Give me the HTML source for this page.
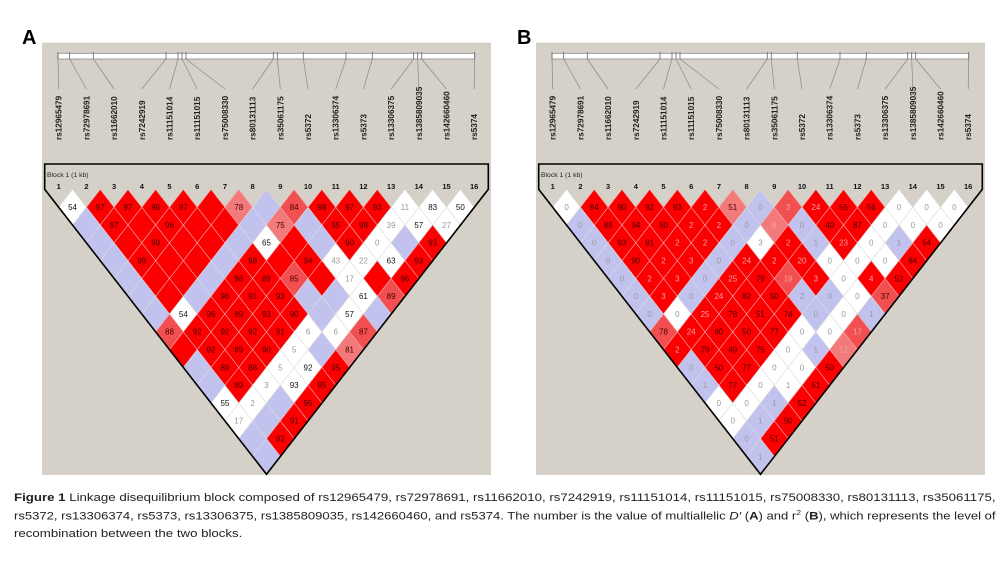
<!DOCTYPE html>
<html><head><meta charset="utf-8">
<style>
html,body{margin:0;padding:0;background:#fff;width:1007px;height:564px;overflow:hidden;font-family:"Liberation Sans",sans-serif}
#cap{position:absolute;left:14px;top:492px;width:982px;font-size:10.6px;color:#222}
.ln{position:absolute;left:0;white-space:nowrap;transform-origin:0 0}
</style></head>
<body>
<svg id="fig" width="1007" height="490" style="position:absolute;left:0;top:0" xmlns="http://www.w3.org/2000/svg"></svg>
<div id="cap">
<div class="ln" style="top:0"><b>Figure 1</b> Linkage disequilibrium block composed of rs12965479, rs72978691, rs11662010, rs7242919, rs11151014, rs11151015, rs75008330, rs80131113, rs35061175,</div>
<div class="ln" style="top:18px">rs5372, rs13306374, rs5373, rs13306375, rs1385809035, rs142660460, and rs5374. The number is the value of multiallelic <i>D′</i> (<b>A</b>) and r<sup style="font-size:7px">2</sup> (<b>B</b>), which represents the level of</div>
<div class="ln" style="top:36px">recombination between the two blocks.</div>
</div>
<script>
const snps=["rs12965479","rs72978691","rs11662010","rs7242919","rs11151014","rs11151015","rs75008330","rs80131113","rs35061175","rs5372","rs13306374","rs5373","rs13306375","rs1385809035","rs142660460","rs5374"];
const physPos=[58,69.7,93.3,166,178,182,186,273.3,277.3,303.3,346,372.3,413.7,417.7,421.7,474.7];
const colorRows=["WRRRRRLBMRRRWWW","BRRRRRBLBRRWWW","BRRRRBWRBRWBR","BRRRBRRRWWWR","BRRBRRMRWRR","BRBRRRBBWM","BWRRRRBWB","MRRRRWWM","RRRRWBL","BRRWWR","BRWWR","WWBR","WBR","BR","B"];
const dPrime=[[54,97,97,96,97,null,78,null,84,98,97,93,11,83,50],[null,97,null,96,null,null,null,75,null,95,98,39,57,27],[null,null,99,null,null,null,65,null,null,90,0,null,93],[null,99,null,null,null,98,null,94,43,22,63,93],[null,null,null,null,98,89,85,null,17,null,96],[null,null,null,96,91,93,null,null,61,89],[null,54,96,89,93,90,null,57,null],[88,92,92,92,91,6,6,87],[null,92,89,90,5,null,81],[null,89,88,5,92,95],[null,89,3,93,95],[55,2,null,95],[17,null,91],[null,92],[null]];
const rSq=[[0,94,90,92,93,2,51,0,3,24,55,56,0,0,0],[0,89,94,90,2,2,0,8,0,40,87,0,0,0],[0,93,91,2,2,0,3,2,1,23,0,1,54],[0,90,2,3,0,24,2,20,0,0,0,84],[0,2,3,0,25,79,19,3,0,4,52],[0,3,0,24,82,50,2,0,0,37],[0,0,25,78,51,74,0,0,1],[78,24,80,50,77,0,0,17],[2,79,49,75,0,1,12],[0,50,77,0,0,50],[1,77,0,1,51],[0,0,1,52],[0,1,50],[0,51],[1]];
const fills={R:"#fb0000",M:"#f25050",L:"#f27a7a",W:"#ffffff",B:"#c2c2ee"};
const NS="http://www.w3.org/2000/svg";
const svg=document.getElementById('fig');
function mk(t,a,p){const e=document.createElementNS(NS,t);for(const k in a)e.setAttribute(k,a[k]);(p||svg).appendChild(e);return e;}
const colX=k=>58.7+27.7*(k-1);
const rowY=d=>207.3+(d-1)*17.8;
const HW=13.85,HH=17.8;
function panel(ox,letter,vals,name){
  const g=mk('g',{transform:`translate(${ox},0)`});
  
  
  const bg=mk('rect',{x:42,y:42.7,width:449,height:432.3,fill:"#d5d1c9"},g);
  
  
  const lt=mk('text',{x:ox?23:22,y:44,"font-size":20,"font-weight":"bold",fill:"#000"},g);
  lt.textContent=letter;
  
  
  const bar=mk('rect',{x:58,y:53.3,width:416.7,height:5.7,fill:"#fff",stroke:"#888","stroke-width":0.8},g);
  
  
  for(let k=0;k<16;k++){
    const px=physPos[k],cx=colX(k+1);
    mk('line',{x1:px,y1:52,x2:px,y2:59,stroke:"#666","stroke-width":0.8},g);
    const ln=mk('line',{x1:px,y1:59,x2:cx,y2:89,stroke:"#888","stroke-width":0.7},g);
    
    
    const t=mk('text',{x:0,y:0,transform:`translate(${cx+3},140) rotate(-90)`,"font-size":8.2,fill:"#222","font-weight":"bold"},g);
    t.textContent=snps[k];
    
    
    const n=mk('text',{x:cx,y:189,"font-size":7.5,"font-weight":"bold","text-anchor":"middle",fill:"#111"},g);
    n.textContent=String(k+1);
    
    
  }
  const bl=mk('text',{x:47,y:177,"font-size":6.8,fill:"#222"},g);
  bl.textContent="Block 1 (1 kb)";
  
  
  for(let d=1;d<=15;d++){
    for(let i=1;i+d<=16;i++){
      const j=i+d,cx=(colX(i)+colX(j))/2,cy=rowY(d);
      const c=colorRows[d-1][i-1],v=vals[d-1][i-1];
      const p=mk('polygon',{points:`${cx},${cy-HH} ${cx+HW},${cy} ${cx},${cy+HH} ${cx-HW},${cy}`,fill:fills[c],stroke:(c==='W'||c==='B')?"#dcdcdc":"#f5a8a8","stroke-width":0.6},g);
      
      
      if(v!==null&&v!==undefined){
        const red=(c==='R'||c==='M'||c==='L');
        const col=red?(v>=30?"#4a0000":"#f4a0a0"):(v>=50?"#111":"#9a9a9a");
        const t=mk('text',{x:cx,y:cy+2.8,"font-size":8,"text-anchor":"middle",fill:col},g);
        t.textContent=String(v);
        
        
      }
    }
  }
  const ol=mk('polygon',{points:"44.7,164 488.3,164 488.3,189.3 266.5,474.3 44.7,189.3",fill:"none",stroke:"#000","stroke-width":1.6},g);
  
  
}
panel(0,"A",dPrime,"panel-a-dprime");
panel(494,"B",rSq,"panel-b-r2");
const lines=document.querySelectorAll('.ln');
const s1=982/lines[0].scrollWidth;
lines[0].style.transform=`scaleX(${s1})`;
lines[1].style.transform=`scaleX(${982/lines[1].scrollWidth})`;
lines[2].style.transform=`scaleX(${s1})`;
</script>
</body></html>
